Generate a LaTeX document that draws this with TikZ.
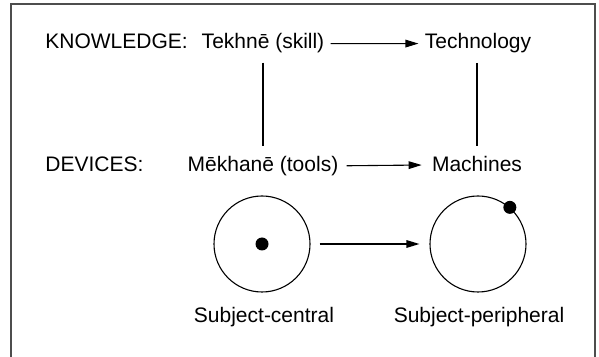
\documentclass[tikz,border=0pt]{standalone}
\usepackage{fontspec}
\setmainfont{Liberation Sans}
\usetikzlibrary{arrows.meta,positioning}
\definecolor{framegray}{HTML}{4D4D4D}
\tikzset{
  rowlabel/.style={
    anchor=base west,
    inner sep=0pt,
    font=\fontsize{10.5}{12}\selectfont
  },
  termnode/.style={
    anchor=base,
    inner sep=3pt,
    font=\fontsize{10.5}{12}\selectfont
  },
  link/.style={
    line width=0.55pt,
    draw=black
  },
  arrow/.style={
    -{Triangle[length=6.5pt,width=3.8pt]},
    line width=0.55pt,
    draw=black
  },
  ring/.style={
    circle,
    draw=black,
    line width=0.55pt,
    minimum size=48pt,
    inner sep=0pt
  },
  spot/.style={
    circle,
    fill=black,
    minimum size=6.5pt,
    inner sep=0pt
  }
}

\begin{document}
\begin{tikzpicture}[x=0.5pt,y=-0.5pt]
\useasboundingbox (0,0) rectangle (599,357);
\draw[framegray, line width=1pt] (11,4) rectangle (595,380);
% upper row: knowledge
\node[rowlabel] (knowledge) at (45,49) {KNOWLEDGE:};
\node[termnode] (tekhne) at (263,49) {Tekhnē (skill)};
\node[termnode] (technology) at (478,49) {Technology};
% lower row: devices
\node[rowlabel] (devices) at (45,172) {DEVICES:};
\node[termnode] (mekhane) at (263,172) {Mēkhanē (tools)};
\node[termnode] (machines) at (477,172) {Machines};
\draw[arrow] (tekhne) -- (technology);
\draw[arrow, shorten <=1pt, shorten >=2pt] (mekhane) -- (machines);
\draw[link, shorten <=1.5pt, shorten >=2pt] (tekhne) -- (mekhane);
\draw[link, shorten <=1.5pt, shorten >=2pt] (technology.south -| machines) -- (machines);
% subject circles
\node[ring] (central) at (262,244) {};
\node[ring] (peripheral) at (478,244) {};
\node[spot] (core) at (central.center) {};
\node[spot] (edge) at (peripheral.49) {};
\draw[arrow, shorten <=4.5pt, shorten >=5pt] (central) -- (peripheral);
\node[termnode] (centrallabel) at (264,322) {Subject-central};
\node[termnode] (peripherallabel) at (479,322) {Subject-peripheral};
\end{tikzpicture}
\end{document}
